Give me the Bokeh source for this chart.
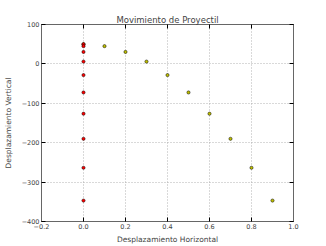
from bokeh.plotting import figure
from bokeh.models import Range1d, LinearAxis, FixedTicker
from bokeh.embed import file_html
from bokeh.resources import INLINE

# Data
x_horiz = [0.0, 0.1, 0.2, 0.3, 0.4, 0.5, 0.6, 0.7, 0.8, 0.9]
y_vals = [50, 45.1, 30.4, 5.9, -28.4, -72.5, -126.4, -190.1, -263.6, -346.9]
x_vert = [0.0] * len(y_vals)

x_ticks = [-0.2, 0.0, 0.2, 0.4, 0.6, 0.8, 1.0]
y_ticks = [-400, -300, -200, -100, 0, 100]

FONT = "DejaVu Sans"

p = figure(width=326, height=246, output_backend="svg", toolbar_location=None,
           x_range=Range1d(-0.2, 1.0), y_range=Range1d(-400, 100),
           min_border_left=41, min_border_right=33, min_border_top=24, min_border_bottom=25)

p.title.text = "Movimiento de Proyectil"
p.title.align = "center"
p.title.text_font = FONT
p.title.text_font_size = "8.5px"
p.title.text_font_style = "normal"
p.title.standoff = 0
p.title.offset = 0

p.scatter(x_horiz, y_vals, size=3.2, fill_color="#bfbf00", line_color="black", line_width=0.5)
p.scatter(x_vert, y_vals, size=3.2, fill_color="#ff0000", line_color="black", line_width=0.5)

for ax in p.xaxis:
    ax.ticker = FixedTicker(ticks=x_ticks)
    ax.axis_label = "Desplazamiento Horizontal"
for ax in p.yaxis:
    ax.ticker = FixedTicker(ticks=y_ticks)
    ax.axis_label = "Desplazamiento Vertical"
    ax.major_label_overrides = {t: ("\u2212%d" % -t if t < 0 else "%d" % t) for t in y_ticks}

for ax in list(p.xaxis) + list(p.yaxis):
    ax.major_label_text_font = FONT
    ax.major_label_text_font_size = "6.5px"
    ax.axis_label_text_font = FONT
    ax.axis_label_text_font_size = "7.5px"
    ax.axis_label_text_font_style = "normal"
    ax.major_tick_in = 4
    ax.major_tick_out = 0
    ax.minor_tick_in = 0
    ax.minor_tick_out = 0
    ax.axis_line_color = "#666666"
    ax.major_tick_line_color = "black"
    ax.major_label_standoff = 2
    ax.axis_label_standoff = 3

for ax in p.yaxis:
    ax.axis_label_standoff = 6

p.xaxis.major_label_overrides = {t: "%.1f" % t if t >= 0 else "\u2212%.1f" % -t for t in x_ticks}

right = LinearAxis(ticker=FixedTicker(ticks=y_ticks), major_label_text_color=None,
                   major_tick_in=4, major_tick_out=0, minor_tick_in=0, minor_tick_out=0,
                   axis_line_color="#666666")
above = LinearAxis(ticker=FixedTicker(ticks=x_ticks), major_label_text_color=None,
                   major_tick_in=4, major_tick_out=0, minor_tick_in=0, minor_tick_out=0,
                   axis_line_color="#666666")
p.add_layout(right, "right")
p.add_layout(above, "above")

p.xgrid.ticker = FixedTicker(ticks=x_ticks)
p.ygrid.ticker = FixedTicker(ticks=y_ticks)
for g in [p.xgrid, p.ygrid]:
    g.grid_line_color = "#a0a0a0"
    g.grid_line_dash = "1 2"
    g.grid_line_width = 0.8

p.outline_line_color = "#666666"
p.outline_line_width = 1
p.background_fill_color = "white"
p.border_fill_color = "white"

open("out.html", "w").write(file_html(p, INLINE))
